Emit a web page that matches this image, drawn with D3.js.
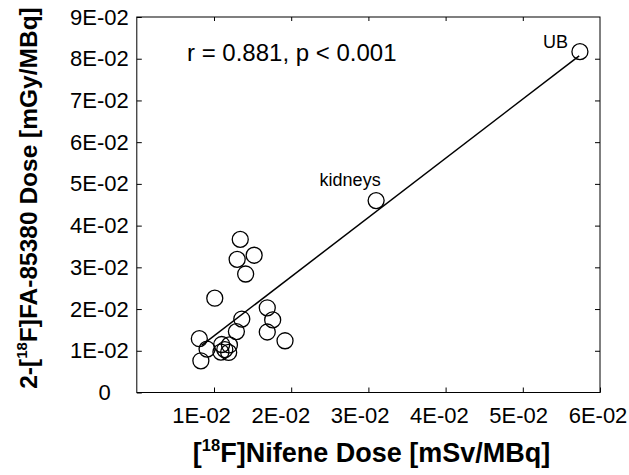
<!DOCTYPE html>
<html>
<head>
<meta charset="utf-8">
<script src="https://cdn.jsdelivr.net/npm/d3@7"></script>
<style>
body { margin: 0; background: #fff; }
svg { display: block; }
text { font-family: "Liberation Sans", Arial, Helvetica, sans-serif; fill: #000; }
</style>
</head>
<body>
<svg id="chart" width="629" height="475"></svg>
<script>
// [18F]Nifene dose (mSv/MBq) and 2-[18F]FA-85380 dose (mGy/MBq) per organ
var nifeneDose = [0.0134, 0.0130, 0.0152, 0.0141, 0.0101, 0.0169, 0.0176, 0.0169, 0.0192, 0.0136,
                  0.0129, 0.0081, 0.0091, 0.0083, 0.0110, 0.0120, 0.0114, 0.0109, 0.0119, 0.0310, 0.0574];
var faDose     = [0.0367, 0.0319, 0.0329, 0.0284, 0.0226, 0.0203, 0.0174, 0.0145, 0.0124, 0.0176,
                  0.0146, 0.0129, 0.0104, 0.0076, 0.0115, 0.0114, 0.0103, 0.0097, 0.0096, 0.0460, 0.0817];
var organNames = ["", "", "", "", "", "", "", "", "", "", "", "", "", "", "", "", "", "", "", "kidneys", "UB"];

// regression line ends
var fitX = [0.0084, 0.0573];
var fitY = [0.0113, 0.0807];

var xTicks = [0.01, 0.02, 0.03, 0.04, 0.05, 0.06];
var xTickLabels = ["1E-02", "2E-02", "3E-02", "4E-02", "5E-02", "6E-02"];
var yTicks = [0, 0.01, 0.02, 0.03, 0.04, 0.05, 0.06, 0.07, 0.08, 0.09];
var yTickLabels = ["0", "1E-02", "2E-02", "3E-02", "4E-02", "5E-02", "6E-02", "7E-02", "8E-02", "9E-02"];

var statText = "r = 0.881, p < 0.001";

var svg = d3.select("#chart");
var mLeft = 136.8, mRight = 600, mTop = 17, mBottom = 392.5;

var x = d3.scaleLinear().domain([0, 0.06]).range([mLeft, mRight]);
var y = d3.scaleLinear().domain([0, 0.09]).range([mBottom, mTop]);
// tick labels in the figure sit on a slightly wider spacing than the ticks
var xLab = d3.scaleLinear().domain([0.01, 0.06]).range([201, 597.5]);

// box
svg.append("rect")
    .attr("x", mLeft).attr("y", mTop)
    .attr("width", mRight - mLeft).attr("height", mBottom - mTop)
    .attr("fill", "none").attr("stroke", "#000").attr("stroke-width", 1);

var gx = svg.append("g")
    .attr("transform", "translate(0," + mBottom + ")")
    .call(d3.axisBottom(x).tickValues(xTicks).tickSize(-5).tickPadding(15)
        .tickFormat(function(d, i) { return xTickLabels[i]; }));
gx.select(".domain").remove();
gx.selectAll("text")
    .attr("font-size", 22)
    .attr("x", function(d) { return xLab(d) - x(d); });

var gxTop = svg.append("g")
    .attr("transform", "translate(0," + mTop + ")")
    .call(d3.axisTop(x).tickValues(xTicks.slice(0, 5)).tickSize(-4).tickFormat(""));
gxTop.select(".domain").remove();

var gy = svg.append("g")
    .attr("transform", "translate(" + mLeft + ",0)")
    .call(d3.axisLeft(y).tickValues(yTicks).tickSize(-5).tickPadding(8)
        .tickFormat(function(d, i) { return yTickLabels[i]; }));
gy.select(".domain").remove();
gy.selectAll("text")
    .attr("font-size", 22)
    .attr("dx", function(d) { return d === 0 ? -18 : 0; });

var gyRight = svg.append("g")
    .attr("transform", "translate(" + mRight + ",0)")
    .call(d3.axisRight(y).tickValues(yTicks.slice(1, 9)).tickSize(-5).tickFormat(""));
gyRight.select(".domain").remove();

svg.selectAll(".tick line").attr("stroke", "#000").attr("stroke-width", 1);

// fit line
svg.append("line")
    .attr("x1", x(fitX[0])).attr("y1", y(fitY[0]))
    .attr("x2", x(fitX[1])).attr("y2", y(fitY[1]))
    .attr("stroke", "#000").attr("stroke-width", 1.5);

// points
svg.append("g").selectAll("circle")
    .data(nifeneDose)
    .enter().append("circle")
    .attr("cx", function(d) { return x(d); })
    .attr("cy", function(d, i) { return y(faDose[i]); })
    .attr("r", 8)
    .attr("fill", "none")
    .attr("stroke", "#000")
    .attr("stroke-width", 1.3);

// organ labels
var labelOffset = { "kidneys": [-26, -15, "middle"], "UB": [-12, -4, "end"] };
organNames.forEach(function(name, i) {
    if (!name) return;
    var o = labelOffset[name];
    svg.append("text")
        .attr("x", x(nifeneDose[i]) + o[0])
        .attr("y", y(faDose[i]) + o[1])
        .attr("text-anchor", o[2])
        .attr("font-size", 18)
        .text(name);
});

svg.append("text")
    .attr("x", 187).attr("y", 61)
    .attr("font-size", 24)
    .text(statText);

// axis titles
var xt = svg.append("text")
    .attr("x", 371.5).attr("y", 462)
    .attr("text-anchor", "middle")
    .attr("font-size", 27).attr("font-weight", "bold");
xt.append("tspan").text("[");
xt.append("tspan").attr("font-size", 16.5).attr("dy", -11).text("18");
xt.append("tspan").attr("dy", 11).text("F]Nifene Dose [mSv/MBq]");

var yt = svg.append("text")
    .attr("transform", "translate(37,198) rotate(-90)")
    .attr("text-anchor", "middle")
    .attr("font-size", 24.5).attr("font-weight", "bold");
yt.append("tspan").text("2-[");
yt.append("tspan").attr("font-size", 15).attr("dy", -10).text("18");
yt.append("tspan").attr("dy", 10).text("F]FA-85380 Dose [mGy/MBq]");
</script>
</body>
</html>
